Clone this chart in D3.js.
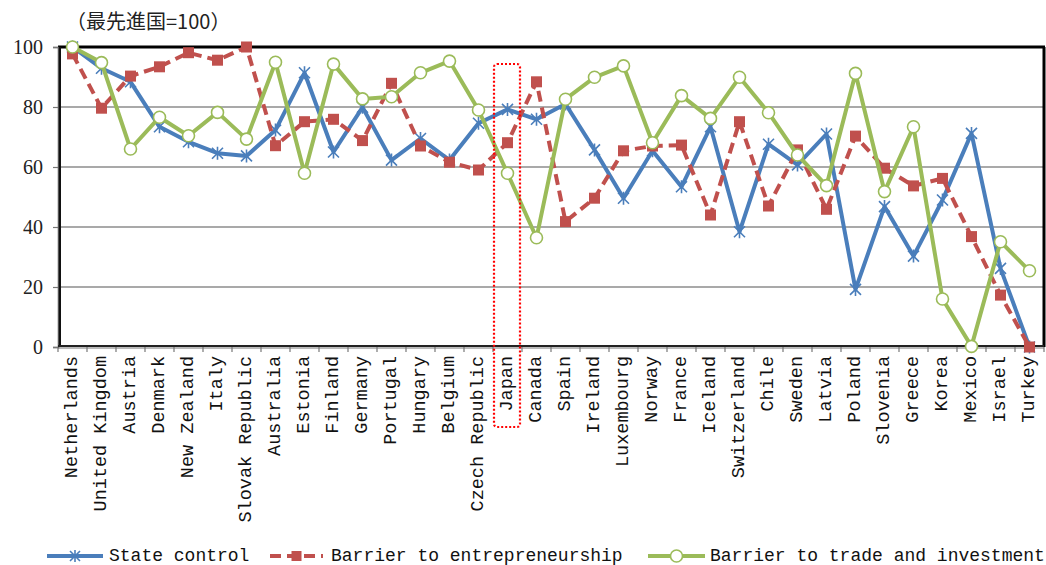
<!DOCTYPE html>
<html>
<head>
<meta charset="utf-8">
<script src="https://cdn.jsdelivr.net/npm/d3@7"></script>
<style>
  html, body { margin: 0; padding: 0; background: #fff; }
  svg { display: block; }
</style>
</head>
<body>
<svg id="chart" width="1046" height="565"></svg>
<script>
// OECD product-market-regulation sub-indices, best performer = 100
const countries = ["Netherlands","United Kingdom","Austria","Denmark","New Zealand","Italy","Slovak Republic","Australia","Estonia","Finland","Germany","Portugal","Hungary","Belgium","Czech Republic","Japan","Canada","Spain","Ireland","Luxembourg","Norway","France","Iceland","Switzerland","Chile","Sweden","Latvia","Poland","Slovenia","Greece","Korea","Mexico","Israel","Turkey"];

const stateControl = [100,92.9,88.4,73.4,68.4,64.6,63.7,72.3,91.4,65.0,79.9,62.3,69.5,62.3,74.6,79.2,75.9,81.0,65.7,49.6,65.4,53.4,73.4,38.4,67.6,60.7,71.0,19.2,46.8,30.3,49.0,71.2,26.2,0];
const entrepreneurship = [97.7,79.6,90.3,93.4,98.1,95.6,100,67.1,75.1,75.9,68.8,87.9,67.0,61.6,59.0,68.1,88.4,41.8,49.6,65.4,67.0,67.3,44.0,75.1,47.0,65.7,45.9,70.3,59.6,53.7,56.2,36.8,17.3,0];
const tradeInvestment = [100,94.8,66.0,76.6,70.4,78.2,69.3,94.9,57.9,94.3,82.7,83.4,91.4,95.3,79.0,57.9,36.4,82.6,89.9,93.7,68.1,83.8,76.2,89.9,78.1,64.0,53.8,91.2,51.8,73.4,16.0,0.2,35.1,25.4];

const yTicks = [0,20,40,60,80,100];
const unitLabel = "（最先進国=100）";
const highlighted = "Japan";

const seriesList = [
  { name: "State control", values: stateControl, color: "#4a7ebb", marker: "star", dash: null },
  { name: "Barrier to entrepreneurship", values: entrepreneurship, color: "#c0504d", marker: "square", dash: "11,6" },
  { name: "Barrier to trade and investment", values: tradeInvestment, color: "#9bbb59", marker: "circle", dash: null }
];

const svg = d3.select("#chart");
const plot = { left: 58, right: 1044, top: 47, bottom: 347 };

const x = d3.scaleBand().domain(countries).range([plot.left, plot.right]);
const y = d3.scaleLinear().domain([0, 100]).range([plot.bottom, plot.top]);

// horizontal gridlines
svg.append("g")
  .selectAll("line")
  .data(yTicks.filter(t => t > 0 && t < 100))
  .join("line")
  .attr("x1", plot.left).attr("x2", plot.right)
  .attr("y1", d => y(d)).attr("y2", d => y(d))
  .attr("stroke", "#8c8c8c").attr("stroke-width", 1.5);

// frame: thick top and right edges
svg.append("line").attr("x1", plot.left).attr("x2", plot.right + 1)
  .attr("y1", y(100)).attr("y2", y(100)).attr("stroke", "#000").attr("stroke-width", 3);
svg.append("line").attr("x1", plot.right).attr("x2", plot.right)
  .attr("y1", y(100)).attr("y2", plot.bottom).attr("stroke", "#000").attr("stroke-width", 3);

// y axis
const yAxis = d3.axisLeft(y).tickValues(yTicks).tickSize(5).tickPadding(10);
const gy = svg.append("g").attr("transform", `translate(${plot.left},0)`).call(yAxis)
  .attr("font-family", null).attr("font-size", null);
gy.select(".domain").attr("stroke", "#555").attr("stroke-width", 1.5);
gy.selectAll(".tick line").attr("stroke", "#777").attr("stroke-width", 1.2);
gy.selectAll(".tick text")
  .style("font-family", "'Liberation Serif', 'DejaVu Serif', serif")
  .style("font-size", "20px").attr("fill", "#222");
svg.append("line").attr("x1", plot.left + 2).attr("x2", plot.left + 2)
  .attr("y1", y(100)).attr("y2", plot.bottom).attr("stroke", "#111").attr("stroke-width", 2);

// x axis with ticks between categories
const gx = svg.append("g").attr("transform", `translate(0,${plot.bottom})`);
gx.selectAll("line.tick")
  .data(d3.range(countries.length + 1))
  .join("line")
  .attr("class", "tick")
  .attr("x1", i => plot.left + i * x.step()).attr("x2", i => plot.left + i * x.step())
  .attr("y1", 0).attr("y2", 5)
  .attr("stroke", "#777").attr("stroke-width", 1.2);
gx.append("line").attr("x1", plot.left).attr("x2", plot.right)
  .attr("y1", -1).attr("y2", -1).attr("stroke", "#222").attr("stroke-width", 2);
gx.append("line").attr("x1", plot.left).attr("x2", plot.right)
  .attr("y1", 1).attr("y2", 1).attr("stroke", "#777").attr("stroke-width", 1);

// category labels, rotated
svg.append("g")
  .selectAll("text")
  .data(countries)
  .join("text")
  .attr("transform", d => `translate(${x(d) + x.bandwidth() / 2},356) rotate(-90)`)
  .attr("text-anchor", "end")
  .attr("dominant-baseline", "central")
  .attr("font-family", "'Liberation Mono', 'DejaVu Sans Mono', monospace")
  .attr("font-size", 18.5)
  .attr("fill", "#111")
  .text(d => d);

// unit label
svg.append("text")
  .attr("x", 66).attr("y", 29)
  .attr("font-family", "'Noto Sans CJK JP', sans-serif")
  .attr("font-size", 20).attr("fill", "#222")
  .text(unitLabel);

// marker drawing
function drawMarker(g, type, color, size) {
  const h = size / 2;
  if (type === "star") {
    g.append("path")
      .attr("d", `M${-h},${-h}L${h},${h}M${-h},${h}L${h},${-h}M0,${-h - 1}L0,${h + 1}`)
      .attr("stroke", color).attr("stroke-width", 1.6).attr("fill", "none");
  } else if (type === "square") {
    g.append("rect").attr("x", -h).attr("y", -h).attr("width", size).attr("height", size)
      .attr("fill", color);
  } else {
    g.append("circle").attr("r", h).attr("fill", "#fff")
      .attr("stroke", color).attr("stroke-width", 1.6);
  }
}

const line = d3.line()
  .x((d, i) => x(countries[i]) + x.bandwidth() / 2)
  .y(d => y(d));

seriesList.forEach(s => {
  const g = svg.append("g");
  g.append("path")
    .attr("d", line(s.values))
    .attr("fill", "none")
    .attr("stroke", s.color)
    .attr("stroke-width", 4)
    .attr("stroke-linejoin", "round")
    .attr("stroke-dasharray", s.dash);
  s.values.forEach((v, i) => {
    const m = g.append("g")
      .attr("transform", `translate(${x(countries[i]) + x.bandwidth() / 2},${y(v)})`);
    drawMarker(m, s.marker, s.color, s.marker === "circle" ? 12 : 11);
  });
});

// highlight box around one category
const hx = x(highlighted);
svg.append("rect")
  .attr("x", hx + 1).attr("y", 64)
  .attr("width", x.bandwidth() - 3).attr("height", 363)
  .attr("rx", 3).attr("ry", 3)
  .attr("fill", "none")
  .attr("stroke", "#ff0000").attr("stroke-width", 2.2)
  .attr("stroke-dasharray", "2,2");

// legend
const legendItems = [
  { x0: 47, x1: 103, tx: 109 },
  { x0: 270, x1: 323, tx: 331 },
  { x0: 648, x1: 705, tx: 710 }
];
const ly = 556;
seriesList.forEach((s, i) => {
  const L = legendItems[i];
  const g = svg.append("g");
  g.append("line").attr("x1", L.x0).attr("x2", L.x1).attr("y1", ly).attr("y2", ly)
    .attr("stroke", s.color).attr("stroke-width", 4)
    .attr("stroke-dasharray", s.dash);
  const m = g.append("g").attr("transform", `translate(${(L.x0 + L.x1) / 2},${ly})`);
  drawMarker(m, s.marker, s.color, s.marker === "circle" ? 12 : 10);
  g.append("text").attr("x", L.tx).attr("y", ly)
    .attr("dominant-baseline", "central")
    .attr("font-family", "'Liberation Mono', 'DejaVu Sans Mono', monospace")
    .attr("font-size", 18).attr("fill", "#111")
    .text(s.name);
});
</script>
</body>
</html>
